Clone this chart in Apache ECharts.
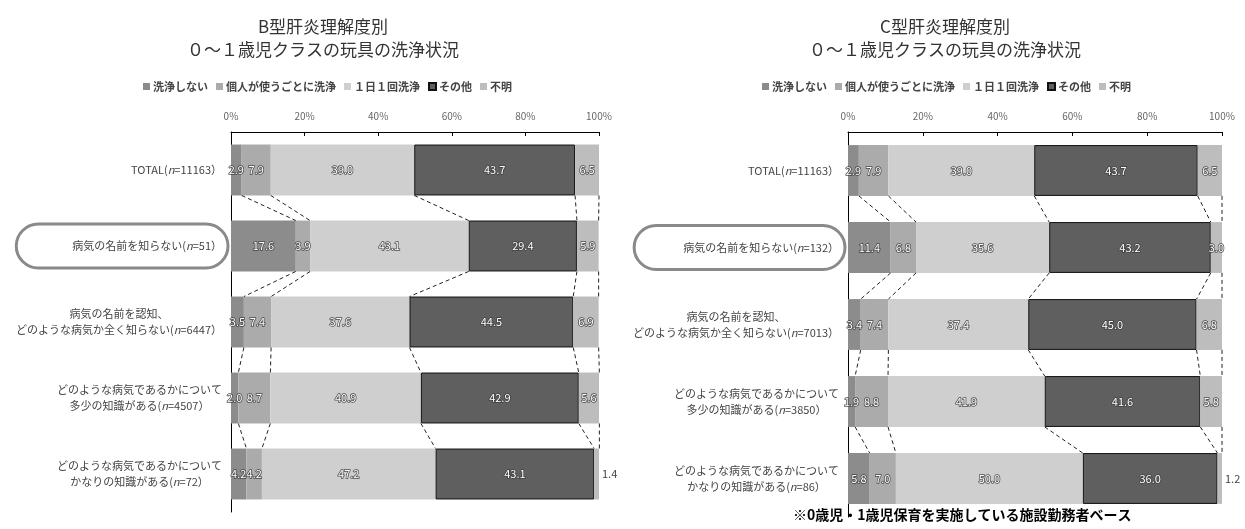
<!DOCTYPE html>
<html>
<head>
<meta charset="utf-8">
<script src="https://cdn.jsdelivr.net/npm/echarts@6/dist/echarts.min.js"></script>
<style>
  html, body { margin: 0; padding: 0; background: #fff; }
  #chart { width: 1245px; height: 529px; }
</style>
</head>
<body>
<div id="chart"></div>
<script>
// Respondent groups (category axis) for each chart
const categoriesB = [
  'TOTAL(n=11163）',
  '病気の名前を知らない(n=51）',
  '病気の名前を認知、\nどのような病気か全く知らない(n=6447）',
  'どのような病気であるかについて\n多少の知識がある(n=4507）',
  'どのような病気であるかについて\nかなりの知識がある(n=72）'
];
const categoriesC = [
  'TOTAL(n=11163）',
  '病気の名前を知らない(n=132）',
  '病気の名前を認知、\nどのような病気か全く知らない(n=7013）',
  'どのような病気であるかについて\n多少の知識がある(n=3850）',
  'どのような病気であるかについて\nかなりの知識がある(n=86）'
];
const seriesNames = ['洗浄しない', '個人が使うごとに洗浄', '１日１回洗浄', 'その他', '不明'];
const percentTicks = [0, 20, 40, 60, 80, 100];

// B型肝炎 (%)
const noWashB  = [2.9, 17.6, 3.5, 2.0, 4.2];
const perUseB  = [7.9, 3.9, 7.4, 8.7, 4.2];
const dailyB   = [39.0, 43.1, 37.6, 40.9, 47.2];
const otherB   = [43.7, 29.4, 44.5, 42.9, 43.1];
const unknownB = [6.5, 5.9, 6.9, 5.6, 1.4];

// C型肝炎 (%)
const noWashC  = [2.9, 11.4, 3.4, 1.9, 5.8];
const perUseC  = [7.9, 6.8, 7.4, 8.8, 7.0];
const dailyC   = [39.0, 35.6, 37.4, 41.9, 50.0];
const otherC   = [43.7, 43.2, 45.0, 41.6, 36.0];
const unknownC = [6.5, 3.0, 6.8, 5.8, 1.2];

const FONT = '"Noto Sans CJK JP", "Noto Sans", sans-serif';
const segColors = ['#8c8c8c', '#ababab', '#cfcfcf', '#5f5f5f', '#bdbdbd'];
const HIGHLIGHT = 1; // the circled group

const chart = echarts.init(document.getElementById('chart'));

// category label: lines centred in a block, "n" in italics
function richLabel(text) {
  return text.split('\n').map(line => {
    const m = line.split('(n=');
    if (m.length === 2) return '{c|' + m[0] + '(}{i|n}{c|=' + m[1] + '}';
    return '{c|' + line + '}';
  }).join('\n');
}

function yAxisFor(idx, cats, ovalPadLeft) {
  return {
    type: 'category', gridIndex: idx, inverse: true,
    data: cats.map((c, i) => i === HIGHLIGHT ? {
      value: c,
      textStyle: {
        borderColor: '#8a8a8a', borderWidth: 3, borderRadius: 24,
        padding: [14, 6, 14, ovalPadLeft]
      }
    } : c),
    axisLine: { show: true, lineStyle: { color: '#000', width: 1 } },
    axisTick: { show: false },
    axisLabel: {
      margin: 3, padding: [0, 6, 0, 0],
      formatter: v => richLabel(v),
      rich: {
        c: { fontFamily: FONT, fontSize: 11, color: '#444', align: 'center', lineHeight: 16 },
        i: { fontFamily: FONT, fontSize: 11, color: '#444', align: 'center', fontStyle: 'italic', lineHeight: 16 }
      }
    }
  };
}

function xAxisFor(idx) {
  return {
    type: 'value', gridIndex: idx, position: 'top', min: 0, max: 100, interval: 20,
    axisLine: { show: true, lineStyle: { color: '#000', width: 1 } },
    axisTick: { show: true, inside: true, length: 4, lineStyle: { color: '#000' } },
    splitLine: { show: false },
    axisLabel: {
      margin: 11, fontFamily: FONT, fontSize: 10, color: '#666',
      formatter: v => percentTicks.includes(v) ? v + '%' : ''
    }
  };
}

function barSeries(idx, segs, gap) {
  return segs.map((vals, k) => ({
    type: 'bar', name: seriesNames[k], stack: 'stack' + idx,
    xAxisIndex: idx, yAxisIndex: idx,
    barCategoryGap: gap,
    itemStyle: k === 3 ? { color: segColors[k], borderColor: '#111', borderWidth: 1 } : { color: segColors[k] },
    label: {
      show: true, position: 'inside', fontFamily: FONT, fontSize: 11,
      color: '#fff', textBorderColor: 'rgba(60,60,60,0.9)', textBorderWidth: 1.5,
      formatter: p => Number(p.value).toFixed(1)
    },
    data: vals.map(v => (k === 4 && v < 2) ? {
      value: v,
      label: { position: 'right', distance: 3, color: '#444', textBorderWidth: 0 }
    } : v),
    z: 2
  }));
}

// dashed connectors between the segment boundaries of neighbouring bars
function connectorSeries(idx, segs, gapRatio) {
  const n = segs[0].length;
  const cum = [];
  for (let i = 0; i < n; i++) {
    let s = 0;
    cum.push(segs.map(arr => (s += arr[i])));
  }
  return {
    type: 'custom', xAxisIndex: idx, yAxisIndex: idx, silent: true, z: 5,
    encode: { x: 0, y: 1 },
    data: cum.slice(0, -1).map((c, i) => [0, i]),
    renderItem: (params, api) => {
      const i = params.dataIndex;
      const band = api.size([0, 1])[1];
      const h = band * (1 - gapRatio);
      return {
        type: 'group',
        children: cum[i].map((v, k) => {
          const p0 = api.coord([v, i]);
          const p1 = api.coord([cum[i + 1][k], i + 1]);
          return {
            type: 'line',
            shape: { x1: p0[0], y1: p0[1] + h / 2, x2: p1[0], y2: p1[1] - h / 2 },
            style: { stroke: '#222', lineWidth: 1, lineDash: [4, 3] }
          };
        })
      };
    }
  };
}

const segsB = [noWashB, perUseB, dailyB, otherB, unknownB];
const segsC = [noWashC, perUseC, dailyC, otherC, unknownC];

const titleStyle = { fontFamily: FONT, fontSize: 17, fontWeight: 'normal', color: '#333', lineHeight: 23 };
const legendBase = {
  top: 76, itemWidth: 7, itemHeight: 7, itemGap: 8, icon: 'rect',
  data: seriesNames,
  textStyle: { fontFamily: FONT, fontSize: 11, fontWeight: 'bold', color: '#444', padding: [0, 0, 0, -2] }
};

chart.setOption({
  animation: false,
  color: segColors,
  title: [
    { text: 'B型肝炎理解度別\n０～１歳児クラスの玩具の洗浄状況', left: 318, top: 10, textAlign: 'center', textStyle: titleStyle },
    { text: 'C型肝炎理解度別\n０～１歳児クラスの玩具の洗浄状況', left: 940, top: 10, textAlign: 'center', textStyle: titleStyle }
  ],
  legend: [
    Object.assign({ left: 138 }, legendBase),
    Object.assign({ left: 757 }, legendBase)
  ],
  grid: [
    { left: 231, width: 368, top: 132, height: 380 },
    { left: 848, width: 374, top: 132, height: 385 }
  ],
  xAxis: [xAxisFor(0), xAxisFor(1)],
  yAxis: [yAxisFor(0, categoriesB, 56), yAxisFor(1, categoriesC, 49)],
  series: [
    ...barSeries(0, segsB, '33%'),
    ...barSeries(1, segsC, '34%'),
    connectorSeries(0, segsB, 0.33),
    connectorSeries(1, segsC, 0.34)
  ],
  graphic: [{
    type: 'text', left: 793, top: 508,
    style: { text: '※0歳児・1歳児保育を実施している施設勤務者ベース', font: 'bold 14px ' + FONT, fill: '#000' }
  }]
});
</script>
</body>
</html>
